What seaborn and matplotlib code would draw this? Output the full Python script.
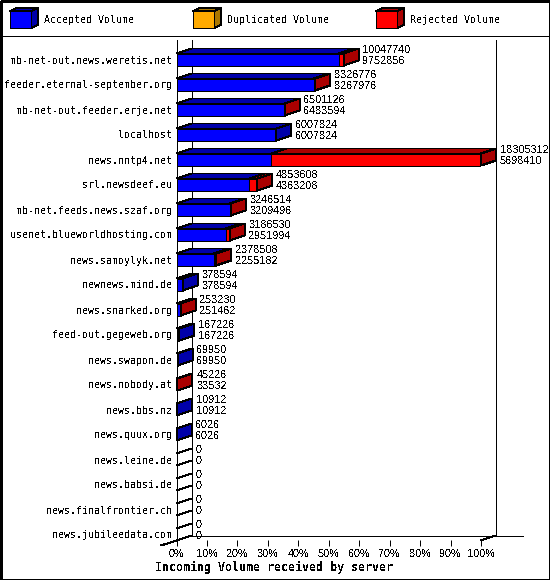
import matplotlib
matplotlib.use("Agg")
import matplotlib.pyplot as plt
import pandas as pd
import seaborn as sns
from matplotlib.patches import Polygon, Rectangle

servers = [
    "mb-net-out.news.weretis.net", "feeder.eternal-september.org",
    "mb-net-out.feeder.erje.net", "localhost", "news.nntp4.net",
    "srl.newsdeef.eu", "mb-net.feeds.news.szaf.org",
    "usenet.blueworldhosting.com", "news.samoylyk.net", "newnews.mind.de",
    "news.snarked.org", "feed-out.gegeweb.org", "news.swapon.de",
    "news.nobody.at", "news.bbs.nz", "news.quux.org", "news.leine.de",
    "news.babsi.de", "news.finalfrontier.ch", "news.jubileedata.com",
]
total = [
    10047740, 8326776, 6501126, 6007824, 18305312, 4853608, 3246514, 3186530,
    2378508, 378594, 253230, 167226, 69950, 45226, 10912, 6026, 0, 0, 0, 0,
]
accepted = [
    9752856, 8267976, 6483594, 6007824, 5698410, 4363208, 3209496, 2951994,
    2255182, 378594, 251462, 167226, 69950, 33532, 10912, 6026, 0, 0, 0, 0,
]
legend_names = ["Accepted Volume", "Duplicated Volume", "Rejected Volume"]
x_ticks = [0, 10, 20, 30, 40, 50, 60, 70, 80, 90, 100]

BLUE, DARK_BLUE = "#0000FF", "#0000AA"
RED, DARK_RED = "#FF0000", "#AA0000"
ORANGE, DARK_ORANGE = "#FFAA00", "#AA7700"
W, H = 550, 580
# depth of the fake 3d faces, in data units (15px right, 5px up)
DX = 15 * 100 / 304.5
DY = 5 / 25
# digits get a sans font: the mono fonts have a dotted zero that reads as 8
NUM_FONT = "Liberation Sans"
NUM_SIZE = 7.8


def px_box(x0, x1, y0, y1):
    return [x0 / W, 1 - y1 / H, (x1 - x0) / W, (y1 - y0) / H]


def draw_face(ax, points, color):
    ax.add_patch(Polygon(points, closed=True, facecolor=color, edgecolor="black",
                         linewidth=0.72, clip_on=False, zorder=4))


def draw_legend_box(frame, x, front, side):
    frame.add_patch(Polygon([(x, 11), (x + 7, 8), (x + 28, 8), (x + 21, 11)],
                            facecolor=side, edgecolor="black", linewidth=0.72))
    frame.add_patch(Polygon([(x + 21, 11), (x + 28, 8), (x + 28, 25), (x + 21, 28)],
                            facecolor=side, edgecolor="black", linewidth=0.72))
    frame.add_patch(Rectangle((x, 11), 21, 17, facecolor=front, edgecolor="black", linewidth=0.72))


def main():
    sns.set_theme(style="white")
    plt.rcParams["font.family"] = ["DejaVu Sans Mono"]
    plt.rcParams["patch.antialiased"] = False
    plt.rcParams["lines.antialiased"] = False
    plt.rcParams["text.antialiased"] = False

    fig = plt.figure(figsize=(W / 100, H / 100), dpi=100, facecolor="white")

    # pixel layer for the border, legend and back walls
    frame = fig.add_axes([0, 0, 1, 1], zorder=0)
    frame.set_xlim(0, W)
    frame.set_ylim(H, 0)
    frame.axis("off")
    frame.add_patch(Rectangle((0.5, 0.5), W - 1, H - 1, fill=False, edgecolor="black", linewidth=1.0))
    frame.plot([0, W], [35.5, 35.5], color="black", lw=0.72)
    frame.plot([191.5, 191.5], [40, 535.5], color="black", lw=0.72)
    frame.plot([495.5, 495.5], [40, 535.5], color="black", lw=0.72)
    frame.plot([191.5, 523], [535.5, 535.5], color="black", lw=0.72)
    frame.plot([161, 191.5], [545.5, 535.5], color="black", lw=0.72)
    frame.plot([481, 495.5], [540.5, 535.5], color="black", lw=0.72)

    legend_x = [10, 193, 376]
    legend_colors = [(BLUE, DARK_BLUE), (ORANGE, DARK_ORANGE), (RED, DARK_RED)]
    for x, name, (front, side) in zip(legend_x, legend_names, legend_colors):
        draw_legend_box(frame, x, front, side)
        frame.text(x + 34, 20, name, fontsize=7.2, va="center", ha="left", color="black")

    df = pd.DataFrame({"server": servers, "total": total, "accepted": accepted})
    top = df["total"].max()
    df["total_pct"] = df["total"] / top * 100
    df["accepted_pct"] = df["accepted"] / top * 100

    ax = fig.add_axes(px_box(176.5, 481, 40, 540), zorder=1)
    ax.patch.set_visible(False)
    sns.barplot(data=df, x="total_pct", y="server", color=RED, saturation=1, width=0.48,
                edgecolor="black", linewidth=0.72, orient="h", ax=ax, zorder=3)
    sns.barplot(data=df, x="accepted_pct", y="server", color=BLUE, saturation=1, width=0.48,
                edgecolor="black", linewidth=0.72, orient="h", ax=ax, zorder=3)

    for i, row in df.iterrows():
        a, t = row["accepted_pct"], row["total_pct"]
        y0, y1 = i - 0.24, i + 0.24
        if t == 0:
            # empty server: only the two edges of the bar remain
            ax.plot([0, DX], [y0, y0 - DY], color="black", lw=0.72, clip_on=False, zorder=4)
            ax.plot([0, DX], [y1, y1 - DY], color="black", lw=0.72, clip_on=False, zorder=4)
        else:
            draw_face(ax, [(0, y0), (DX, y0 - DY), (a + DX, y0 - DY), (a, y0)], DARK_BLUE)
            if t > a:
                draw_face(ax, [(a, y0), (a + DX, y0 - DY), (t + DX, y0 - DY), (t, y0)], DARK_RED)
            draw_face(ax, [(t, y0), (t + DX, y0 - DY), (t + DX, y1 - DY), (t, y1)],
                      DARK_RED if t > a else DARK_BLUE)

        ax.annotate(str(row["total"]), (t + DX, i), xytext=(4, 9.5), textcoords="offset pixels",
                    fontsize=NUM_SIZE, family=NUM_FONT, va="center", ha="left", color="black",
                    annotation_clip=False, zorder=5)
        ax.annotate(str(row["accepted"]), (t + DX, i), xytext=(4, -1.5), textcoords="offset pixels",
                    fontsize=NUM_SIZE, family=NUM_FONT, va="center", ha="left", color="black",
                    annotation_clip=False, zorder=5)

    ax.set_xlim(0, 100)
    ax.set_ylim(19.22, -0.78)
    ax.set_xticks(x_ticks)
    ax.set_xticklabels([f"{v}%" for v in x_ticks], fontsize=NUM_SIZE, family=NUM_FONT)
    ax.tick_params(axis="x", bottom=True, length=4.3, width=0.72, pad=2.5, color="black", labelcolor="black")
    ax.tick_params(axis="y", left=False, length=0, pad=3.2, labelsize=7.2, labelcolor="black")
    ax.set_ylabel("")
    ax.set_xlabel("Incoming Volume received by server", fontsize=8.4, fontweight="bold", color="black")
    ax.xaxis.set_label_coords((274 - 176.5) / 304.5, -(567 - 540) / 500, transform=ax.transAxes)
    ax.xaxis.label.set_verticalalignment("center")
    sns.despine(ax=ax, top=True, right=True, bottom=True, left=False)
    ax.spines["left"].set_color("black")
    ax.spines["left"].set_linewidth(0.72)

    fig.savefig("out.png", dpi=100)
    plt.close(fig)


if __name__ == "__main__":
    main()
